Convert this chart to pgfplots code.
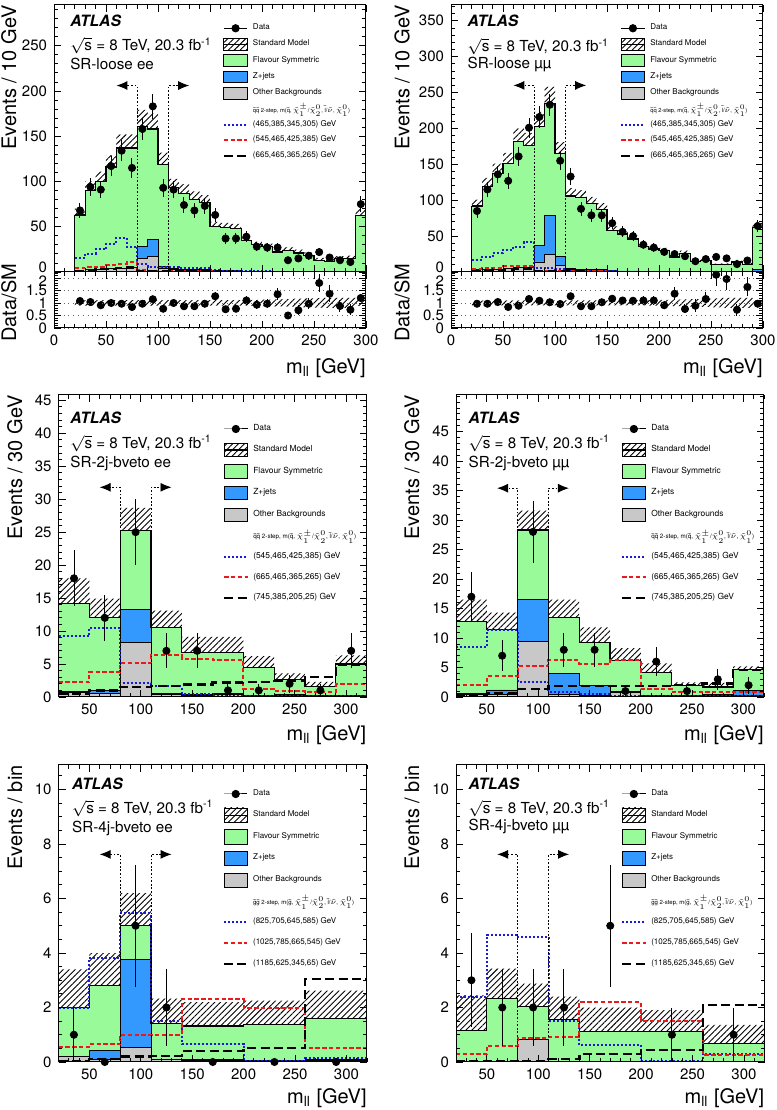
\documentclass[border=0pt]{standalone}
\usepackage{graphicx}
\usepackage{pgfplots}
\pgfplotsset{compat=1.18}
\usepackage{pgfplotstable}
\usepgfplotslibrary{fillbetween}
\usetikzlibrary{patterns.meta,arrows.meta}
\usepackage{fontspec}
\setmainfont{TeX Gyre Heros}

\definecolor{fsgreen}{RGB}{152,250,152}
\definecolor{zblue}{RGB}{51,153,255}
\definecolor{othgrey}{RGB}{200,200,200}
\definecolor{sigblue}{RGB}{25,25,215}
\definecolor{sigred}{RGB}{235,25,25}

\tikzset{
  sig1/.style={color=sigblue, line width=1pt, dash pattern=on 1pt off 1pt},
  sig2/.style={color=sigred, line width=1pt, dash pattern=on 2.2pt off 1.2pt},
  sig3/.style={color=black, line width=1.1pt, dash pattern=on 4.5pt off 2.2pt},
  hatchfill/.style={pattern={Lines[angle=45,distance=2.1pt,line width=0.45pt]}, pattern color=black},
}
\def\lw{11.7pt}
\def\lh{2.9pt}

\pgfplotsset{
  stepl/.style={const plot mark left, forget plot},
  root/.style={
    scale only axis, axis on top, clip=true,
    tick align=inside, major tick length=3.5pt, minor tick length=1.8pt,
    every tick/.style={black, line width=0.4pt},
    axis line style={line width=0.5pt},
    tick label style={font=\fontsize{7.5}{9}\selectfont},
    /pgf/number format/assume math mode=true,
    label style={font=\fontsize{9}{10.5}\selectfont},
    every axis y label/.style={rotate=90, anchor=south east, inner sep=0pt},
    every axis x label/.style={at={(axis description cs:1,0)}, anchor=north east, inner sep=0pt},
    legend cell align=left,
    legend style={draw=none, fill=none, anchor=north west, inner sep=0pt, outer sep=0pt,
      column sep=2.3pt, nodes={inner sep=0pt}},
  },
  leg data/.style={black, mark=*, mark size=1.8pt, line width=0.5pt,
    legend image code/.code={\path[draw=none,fill=none] (0pt,-\lh) rectangle (\lw,\lh);
      \draw[mark repeat=2, mark phase=2] plot coordinates {(0pt,0pt) (5.85pt,0pt) (11.7pt,0pt)};}},
  leg sm/.style={legend image code/.code={\fill[hatchfill] (0pt,-\lh) rectangle (\lw,\lh);
      \draw[black, line width=0.6pt] (0pt,0pt) -- (\lw,0pt);}},
  leg box/.style={legend image code/.code={\filldraw[fill=#1, draw=black, line width=0.45pt] (0pt,-\lh) rectangle (\lw,\lh);}},
  leg line/.style={legend image code/.code={\path[draw=none,fill=none] (0pt,-\lh) rectangle (\lw,\lh);
      \draw[#1] (0pt,0pt) -- (\lw,0pt);}},
  leg empty/.style={draw=none, fill=none,
    legend image code/.code={\path[draw=none,fill=none] (0pt,-\lh) rectangle (\lw,\lh);}},
}

% stacked backgrounds, SM band, signal lines
\newcommand{\drawstack}[2]{%
  \addplot[stepl, fill=fsgreen, draw=black, line width=0.4pt] table[x=x,y=sm] {#1} \closedcycle;
  \addplot[stepl, fill=zblue, draw=black, line width=0.4pt] table[x=x,y=zo] {#1} \closedcycle;
  \addplot[stepl, fill=othgrey, draw=black, line width=0.4pt] table[x=x,y=ot] {#1} \closedcycle;
  \addplot[stepl, draw=none, name path=#2hi] table[x=x,y=hi] {#1};
  \addplot[stepl, draw=none, name path=#2lo] table[x=x,y=lo] {#1};
  \addplot[hatchfill, draw=none, forget plot] fill between[of=#2hi and #2lo];
  \addplot[stepl, draw=black, line width=0.6pt] table[x=x,y=sm] {#1};
  \addplot[stepl, sig1] table[x=x,y=s1] {#1};
  \addplot[stepl, sig2] table[x=x,y=s2] {#1};
  \addplot[stepl, sig3] table[x=x,y=s3] {#1};
}
\newcommand{\datapts}[3]{%
  \addplot[black, only marks, mark=*, mark size=1.8pt, forget plot,
    error bars/.cd, y dir=both, y explicit, error mark=none,
    error bar style={line width=0.5pt, black, solid}]
    table[x=x, y=#2, y error=#3] {#1};
}
\newcommand{\zwin}[1]{%
  \addplot[black, line width=0.45pt, dash pattern=on 0.9pt off 0.9pt, -{Latex[length=5.5pt,width=4.5pt]}, forget plot]
    coordinates {(80,0) (80,#1) (60,#1)};
  \addplot[black, line width=0.45pt, dash pattern=on 0.9pt off 0.9pt, -{Latex[length=5.5pt,width=4.5pt]}, forget plot]
    coordinates {(110,0) (110,#1) (130,#1)};
}
\newcommand{\atlas}[5]{%
  \node[anchor=base west, inner sep=0pt, font=\fontsize{7.8}{9}\selectfont\bfseries\itshape] at (axis description cs:#1,#2) {ATLAS};
  \node[anchor=base west, inner sep=0pt, font=\fontsize{7.6}{9}\selectfont] at (axis description cs:#1,#3) {$\sqrt{\mbox{s}}$ = 8 TeV, 20.3 fb\textsuperscript{-1}};
  \node[anchor=base west, inner sep=0pt, font=\fontsize{7.6}{9}\selectfont] at (axis description cs:#1,#4) {#5};
}
\newcommand{\legq}[4]{%
  \addlegendimage{leg data}\addlegendentry{Data}
  \addlegendimage{leg sm}\addlegendentry{Standard Model}
  \addlegendimage{leg box=fsgreen}\addlegendentry{Flavour Symmetric}
  \addlegendimage{leg box=zblue}\addlegendentry{Z+jets}
  \addlegendimage{leg box=othgrey}\addlegendentry{Other Backgrounds}
  \addlegendimage{leg empty}\addlegendentry{#1}
  \addlegendimage{leg line=sig1}\addlegendentry{#2}
  \addlegendimage{leg line=sig2}\addlegendentry{#3}
  \addlegendimage{leg line=sig3}\addlegendentry{#4}
}
\newcommand{\modq}[1]{\resizebox{#1}{!}{$\tilde{\mathrm{q}}\tilde{\mathrm{q}}$ 2-step, m($\tilde{\mathrm{q}}$, $\tilde{\chi}^{\pm}_{1}$/$\tilde{\chi}^{0}_{2}$, $\tilde{\mathrm{l}}$/$\tilde{\nu}$, $\tilde{\chi}^{0}_{1}$)}}
\newcommand{\modg}[1]{\resizebox{#1}{!}{$\tilde{\mathrm{g}}\tilde{\mathrm{g}}$ 2-step, m($\tilde{\mathrm{g}}$, $\tilde{\chi}^{\pm}_{1}$/$\tilde{\chi}^{0}_{2}$, $\tilde{\mathrm{l}}$/$\tilde{\nu}$, $\tilde{\chi}^{0}_{1}$)}}
\newcommand{\mll}{m\textsubscript{ll} [GeV]}

% ---------------- SR-loose ee ----------------
\pgfplotstableread{
x sm lo hi zo ot s1 s2 s3 rl rh
20 63 56 70 1 1 16 4 1.5 0.89 1.11
30 90 80 100 3 3 20 5 2 0.89 1.11
40 100 89 111 3 3 25 6 3 0.89 1.11
50 116 103 129 4 4 31 8 3.5 0.89 1.11
60 137 122 152 4 4 38 9 4 0.89 1.11
70 137 122 152 5 5 28 11 5 0.89 1.11
80 161 143 179 28 15 9 2 1.5 0.89 1.11
90 158 141 175 36 17 6 1.5 1 0.89 1.11
100 119 106 132 6 4 5 1.5 1 0.89 1.11
110 93 83 103 4 3 5 1 1 0.89 1.11
120 87 77 97 3 2 4 1 0.8 0.89 1.11
130 80 71 89 2.5 2 4 1 0.8 0.89 1.11
140 77 69 85 2.5 2 4 0.8 0.5 0.89 1.11
150 50 44.5 55.5 2 1.5 2 0.6 0.5 0.89 1.11
160 49 43.6 54.4 1.5 1.5 1.5 0.5 0.4 0.89 1.11
170 48 42.7 53.3 1.5 1 1.5 0.5 0.4 0.89 1.11
180 35 31 39 1 1 1 0.4 0.3 0.89 1.11
190 30 26.5 33.5 0.8 0.8 1 0.4 0.3 0.88 1.12
200 28 24.4 31.6 0.8 0.8 1 0.3 0.3 0.87 1.13
210 22 19 25 0.8 0.8 0.5 0.3 0.2 0.86 1.14
220 24 20.4 27.6 0.8 0.8 0.3 0.2 0.2 0.85 1.15
230 21 17.4 24.6 0.8 0.8 0.3 0.2 0.2 0.83 1.17
240 18.5 15.2 21.8 0.8 0.8 0.3 0.2 0.2 0.82 1.18
250 13 10.5 15.5 0.8 0.8 0.3 0.2 0.2 0.81 1.19
260 12 9.6 14.4 0.8 0.8 0.3 0.2 0.2 0.8 1.2
270 14.5 11.6 17.4 0.8 0.8 0.3 0.2 0.2 0.8 1.2
280 15 12 18 0.8 0.8 0.3 0.2 0.2 0.8 1.2
290 62 54.5 69.5 1 1 0.3 0.2 0.2 0.88 1.12
300 62 54.5 69.5 1 1 0.3 0.2 0.2 0.88 1.12
}\tlhist
\pgfplotstableread{
x y e r re
25 68 8.2 1.08 0.13
35 94 9.7 1.04 0.11
45 91 9.5 0.91 0.095
55 117 10.8 1.0 0.093
65 134 11.6 0.97 0.085
75 115 10.7 0.84 0.078
85 158 12.6 0.97 0.078
95 183 13.5 1.15 0.086
105 93 9.6 0.77 0.081
115 91 9.5 1.0 0.10
125 74 8.6 0.87 0.10
135 68 8.2 0.87 0.10
145 73 8.5 0.97 0.11
155 63 7.9 1.27 0.16
165 37 6.1 0.75 0.12
175 37 6.1 0.77 0.13
185 39 6.2 1.1 0.18
195 28 5.3 0.93 0.18
205 27 5.2 0.97 0.19
215 27 5.2 1.35 0.24
225 13 3.6 0.5 0.15
235 15 3.9 0.71 0.19
245 18 4.2 0.97 0.23
255 22 4.7 1.8 0.36
265 16 4.0 1.37 0.33
275 13 3.6 0.88 0.25
285 11 3.3 0.73 0.22
295 75 8.7 1.2 0.14
}\tldata

% ---------------- SR-loose mumu ----------------
\pgfplotstableread{
x sm lo hi zo ot s1 s2 s3 rl rh
20 92 83 101 3 3 17 4 1 0.9 1.1
30 119 107 131 4 4 21 5 2 0.9 1.1
40 137 123 151 4 4 26 6 2 0.9 1.1
50 151 136 166 5 5 30 8 3 0.9 1.1
60 182 164 200 6 6 35 9 4 0.9 1.1
70 176 158 194 6 6 42 8.5 4 0.9 1.1
80 203 183 223 37 14 6 2 1 0.9 1.1
90 235 212 258 79 25 5 2 1 0.9 1.1
100 165 149 181 22 9 4 1.5 1 0.9 1.1
110 106 95 117 5 3 2 1 0.8 0.9 1.1
120 104 94 114 4 2 1.5 1 0.8 0.9 1.1
130 95 85.5 104.5 3 2 1.5 0.8 0.5 0.9 1.1
140 87 78 96 3 2 1 0.8 0.5 0.9 1.1
150 58 52 64 2 1.5 1 0.5 0.4 0.9 1.1
160 53 47.7 58.3 1.5 1 0.5 0.4 0.3 0.9 1.1
170 46 41.4 50.6 1.5 1 0.5 0.4 0.3 0.9 1.1
180 35 31.5 38.5 1 0.8 0.5 0.4 0.3 0.9 1.1
190 32 28.5 35.5 1 0.8 0.5 0.3 0.3 0.89 1.11
200 30 26.4 33.6 1 0.8 0.4 0.3 0.3 0.88 1.12
210 21 18.3 23.7 1 0.8 0.4 0.3 0.2 0.87 1.13
220 26 22.4 29.6 1 0.8 0.3 0.2 0.2 0.86 1.14
230 15 12.8 17.2 1 0.8 0.3 0.2 0.2 0.85 1.15
240 16 13.4 18.6 1 0.8 0.3 0.2 0.2 0.84 1.16
250 10 8.2 11.8 1 0.8 0.3 0.2 0.2 0.82 1.18
260 10 8 12 1 0.8 0.3 0.2 0.2 0.8 1.2
270 14 11.2 16.8 1 0.8 0.3 0.2 0.2 0.8 1.2
280 10.5 8.4 12.6 1 0.8 0.3 0.2 0.2 0.8 1.2
290 62 55 69 4 1 0.3 0.2 0.2 0.89 1.11
300 62 55 69 4 1 0.3 0.2 0.2 0.89 1.11
}\trhist
\pgfplotstableread{
x y e r re
25 85 9.2 0.97 0.10
35 115 10.7 0.97 0.09
45 136 11.7 1.04 0.085
55 127 11.3 0.84 0.075
65 161 12.7 0.89 0.07
75 201 14.2 1.16 0.08
85 216 14.7 1.09 0.072
95 233 15.3 1.03 0.065
105 155 12.4 0.96 0.075
115 133 11.5 1.27 0.11
125 88 9.4 0.87 0.09
135 79 8.9 0.87 0.095
145 79 8.9 1.03 0.1
155 68 8.2 1.17 0.14
165 56 7.5 1.1 0.14
175 50 7.1 1.09 0.15
185 38 6.2 1.1 0.18
195 34 5.8 1.1 0.18
205 28 5.3 0.91 0.17
215 25 5.0 1.37 0.25
225 22 4.7 0.76 0.18
235 15 3.9 0.89 0.26
245 18 4.2 1.16 0.26
255 21 4.6 2.13 0.45
265 19 4.4 1.96 0.44
275 11 3.3 0.73 0.24
285 16 4.0 1.64 0.38
295 64 8.0 0.97 0.13
}\trdata

% ---------------- SR-2j-bveto ----------------
\pgfplotstableread{
x sm lo hi zo ot s1 s2 s3
20 14.2 10.5 18 0.8 0.7 9.2 2.2 0.5
50 12 9.1 14.9 1.0 0.5 10.5 3.8 1.0
80 25.2 21.9 28.7 13.3 8.3 2.1 5.1 1.5
110 10.5 7.7 13.1 0.6 0.4 1.6 6.3 1.7
140 6.7 4.6 9.1 0.4 0.3 0.5 5.8 1.9
170 6.7 4.6 9.1 0.5 0.4 0.1 5.6 2.2
200 4.5 3.1 6.2 0.3 0.2 0.2 1.2 2.3
230 2.6 1.8 3.6 0.4 0.3 0.2 0.9 2.4
260 1.6 0.8 2.3 0.2 0.1 0.1 0.7 3.0
290 5.0 3.6 6.3 0.3 0.2 0.1 1.9 4.9
320 5.0 3.6 6.3 0.3 0.2 0.1 1.9 4.9
}\mlhist
\pgfplotstableread{
x y e
35 18 4.24
65 12 3.46
95 25 5
125 7 2.65
155 7 2.65
185 1 1
215 1 1
245 2 1.41
275 1 1
305 7 2.65
}\mldata
\pgfplotstableread{
x sm lo hi zo ot s1 s2 s3
20 12.8 9.1 16.5 0.6 0.5 8.5 2.0 0.3
50 11.5 9.1 14.3 1.2 0.5 11.3 3.5 0.6
80 28.3 24 31.6 16.6 9.4 2.5 5.2 1.3
110 13.5 10.5 16.5 4.0 0.5 0.8 6.2 1.8
140 9.2 6.9 11.8 2.0 0.3 0.5 5.6 1.8
170 6.2 4.6 8.3 1.0 0.8 0.2 6.2 1.8
200 4.2 2.8 5.7 0.3 0.2 0.1 1.4 1.8
230 1.9 1.4 2.5 0.3 0.2 0.1 0.9 2.0
260 1.7 1.1 2.4 0.5 0.2 0.1 0.8 2.3
290 4.6 3.6 5.2 1.1 0.2 0.1 0.9 4.6
320 4.6 3.6 5.2 1.1 0.2 0.1 0.9 4.6
}\mrhist
\pgfplotstableread{
x y e
35 17 4.12
65 7 2.65
95 28 5.29
125 8 2.83
155 8 2.83
185 1 1
215 6 2.45
245 1 1
275 3 1.73
305 2 1.41
}\mrdata

% ---------------- SR-4j-bveto ----------------
\pgfplotstableread{
x sm lo hi zo ot s1 s2 s3
20 2.0 0.6 3.4 0.2 0.2 2.0 0.55 0.05
50 2.8 1.65 4.0 0.42 0.1 3.8 0.65 0.1
80 5.0 3.76 6.2 3.75 0.55 5.45 1.0 0.2
110 1.42 0.5 2.33 0.1 0.1 1.5 1.0 0.22
140 1.32 0.45 2.2 0.08 0.05 0.65 2.3 0.4
200 1.38 0.5 2.25 0.05 0.05 0.02 2.0 0.5
260 1.6 0.55 2.62 0.1 0.05 0.15 0.5 3.05
320 1.6 0.55 2.62 0.1 0.05 0.15 0.5 3.05
}\blhist
\pgfplotstableread{
x y e
35 1 1
65 0 0
95 5 2.24
125 2 1.41
170 0 0
230 0 0
290 0 0
}\bldata
\pgfplotstableread{
x sm lo hi zo ot s1 s2 s3
20 1.17 0.02 2.45 0.03 0.02 2.4 0.28 0.03
50 2.33 1.2 3.43 0.03 0.02 4.65 0.6 0.03
80 2.05 0.85 2.88 0.83 0.82 4.6 0.87 0.05
110 1.55 0.62 2.4 0.03 0.02 1.5 0.9 0.1
140 1.11 0.26 2.0 0.03 0.02 0.63 2.2 0.3
200 1.11 0.26 1.9 0.03 0.02 0.03 1.5 0.45
260 0.68 0.2 1.36 0.03 0.02 0.3 0.26 2.1
320 0.68 0.2 1.36 0.03 0.02 0.3 0.26 2.1
}\brhist
\pgfplotstableread{
x y e
35 3 1.73
65 2 1.41
95 2 1.41
125 2 1.41
170 5 2.24
230 1 1
290 1 1
}\brdata

\begin{document}
\begin{tikzpicture}

% ===== top left: main =====
\def\lh{2.9pt}
\begin{axis}[root, at={(27pt,419pt)}, anchor=south west, width=156pt, height=133.5pt,
  xmin=0, xmax=300, ymin=0, ymax=295,
  xtick={0,50,...,300}, xticklabels={}, minor xtick={0,10,...,300},
  ytick={0,50,...,250}, yticklabels={{\raisebox{2.5pt}[\height][\depth]{0}},50,100,150,200,250},
  minor ytick={0,10,...,290},
  ylabel={Events / 10 GeV}, ylabel style={at={(axis description cs:-0.1186,1)}},
  legend style={at={(axis description cs:0.541,0.9345)}, row sep=1.95pt, font=\fontsize{4}{4.8}\selectfont},
]
\drawstack{\tlhist}{tl}
\zwin{206}
\datapts{\tldata}{y}{e}
\atlas{0.051}{0.921}{0.829}{0.757}{SR-loose ee}
\legq{\modq{48.5pt}}{(465,385,345,305) GeV}{(545,465,425,385) GeV}{(665,465,365,265) GeV}
\end{axis}
% ===== top left: ratio =====
\begin{axis}[root, at={(27pt,391pt)}, anchor=south west, width=156pt, height=28pt,
  xmin=0, xmax=300, ymin=0, ymax=2.24,
  xtick={0,50,...,300}, minor xtick={0,10,...,300},
  ytick={0,0.5,1,1.5,2}, yticklabels={0,0.5,1,1.5,{\raisebox{-1.5pt}[\height][\depth]{2}}},
  minor ytick={0,0.1,...,2.2},
  ymajorgrids, major grid style={dotted, black!60, line width=0.35pt},
  xlabel={\mll}, xlabel style={yshift=-15pt},
  ylabel={Data/SM}, ylabel style={at={(axis description cs:-0.1186,0.45)}, anchor=south},
]
\addplot[stepl, draw=none, name path=tlrh] table[x=x,y=rh] {\tlhist};
\addplot[stepl, draw=none, name path=tlrl] table[x=x,y=rl] {\tlhist};
\addplot[hatchfill, draw=none, forget plot] fill between[of=tlrh and tlrl];
\datapts{\tldata}{r}{re}
\end{axis}

% ===== top right: main =====
\begin{axis}[root, at={(225.5pt,419pt)}, anchor=south west, width=156pt, height=133.5pt,
  xmin=0, xmax=300, ymin=0, ymax=372,
  xtick={0,50,...,300}, xticklabels={}, minor xtick={0,10,...,300},
  ytick={0,50,...,350}, yticklabels={{\raisebox{2.5pt}[\height][\depth]{0}},50,100,150,200,250,300,350},
  minor ytick={0,10,...,370},
  ylabel={Events / 10 GeV}, ylabel style={at={(axis description cs:-0.131,1)}},
  legend style={at={(axis description cs:0.542,0.9345)}, row sep=1.95pt, font=\fontsize{4}{4.8}\selectfont},
]
\drawstack{\trhist}{tr}
\zwin{260}
\datapts{\trdata}{y}{e}
\atlas{0.052}{0.919}{0.825}{0.763}{SR-loose µµ}
\legq{\modq{48.5pt}}{(465,385,345,305) GeV}{(545,465,425,385) GeV}{(665,465,365,265) GeV}
\end{axis}
% ===== top right: ratio =====
\begin{axis}[root, at={(225.5pt,391pt)}, anchor=south west, width=156pt, height=28pt,
  xmin=0, xmax=300, ymin=0, ymax=2.24,
  xtick={0,50,...,300}, minor xtick={0,10,...,300},
  ytick={0,0.5,1,1.5,2}, yticklabels={0,0.5,1,1.5,{\raisebox{-1.5pt}[\height][\depth]{2}}},
  minor ytick={0,0.1,...,2.2},
  ymajorgrids, major grid style={dotted, black!60, line width=0.35pt},
  xlabel={\mll}, xlabel style={yshift=-15pt},
  ylabel={Data/SM}, ylabel style={at={(axis description cs:-0.131,0.45)}, anchor=south},
]
\addplot[stepl, draw=none, name path=trrh] table[x=x,y=rh] {\trhist};
\addplot[stepl, draw=none, name path=trrl] table[x=x,y=rl] {\trhist};
\addplot[hatchfill, draw=none, forget plot] fill between[of=trrh and trrl];
\datapts{\trdata}{r}{re}
\end{axis}

% ===== middle left =====
\def\lh{3.35pt}
\begin{axis}[root, at={(29.3pt,206.5pt)}, anchor=south west, width=154pt, height=151pt,
  xmin=20, xmax=320, ymin=0, ymax=45.8,
  xtick={50,100,...,300}, minor xtick={20,30,...,320},
  ytick={0,5,...,45}, minor ytick={0,1,...,45},
  xlabel={\mll}, xlabel style={yshift=-14pt},
  ylabel={Events / 30 GeV}, ylabel style={at={(axis description cs:-0.1156,1)}},
  legend style={at={(axis description cs:0.534,0.9096)}, row sep=3.65pt, font=\fontsize{4.2}{5}\selectfont},
]
\drawstack{\mlhist}{ml}
\zwin{31.8}
\datapts{\mldata}{y}{e}
\atlas{0.037}{0.906}{0.823}{0.761}{SR-2j-bveto ee}
\legq{\modq{51.5pt}}{(545,465,425,385) GeV}{(665,465,365,265) GeV}{(745,385,205,25) GeV}
\end{axis}

% ===== middle right =====
\begin{axis}[root, at={(228pt,206.5pt)}, anchor=south west, width=154pt, height=151pt,
  xmin=20, xmax=320, ymin=0, ymax=51.2,
  xtick={50,100,...,300}, minor xtick={20,30,...,320},
  ytick={0,5,...,45}, minor ytick={0,1,...,51},
  xlabel={\mll}, xlabel style={yshift=-14pt},
  ylabel={Events / 30 GeV}, ylabel style={at={(axis description cs:-0.117,1)}},
  legend style={at={(axis description cs:0.536,0.9096)}, row sep=3.65pt, font=\fontsize{4.2}{5}\selectfont},
]
\drawstack{\mrhist}{mr}
\zwin{35.4}
\datapts{\mrdata}{y}{e}
\atlas{0.04}{0.906}{0.823}{0.76}{SR-2j-bveto µµ}
\legq{\modq{51.5pt}}{(545,465,425,385) GeV}{(665,465,365,265) GeV}{(745,385,205,25) GeV}
\end{axis}

% ===== bottom left =====
\def\lh{3.6pt}
\begin{axis}[root, at={(29.25pt,24pt)}, anchor=south west, width=154.25pt, height=148.5pt,
  xmin=20, xmax=320, ymin=0, ymax=10.9,
  xtick={50,100,...,300}, minor xtick={20,30,...,320},
  ytick={0,2,...,10}, minor ytick={0,0.5,...,10.5},
  xlabel={\mll}, xlabel style={yshift=-13pt},
  ylabel={Events / bin}, ylabel style={at={(axis description cs:-0.115,1)}},
  legend style={at={(axis description cs:0.533,0.9266)}, row sep=3.2pt, font=\fontsize{4}{4.8}\selectfont},
]
\drawstack{\blhist}{bl}
\zwin{7.62}
\datapts{\bldata}{y}{e}
\atlas{0.043}{0.916}{0.837}{0.772}{SR-4j-bveto ee}
\legq{\modg{50.5pt}}{(825,705,645,585) GeV}{(1025,785,665,545) GeV}{(1185,625,345,65) GeV}
\end{axis}

% ===== bottom right =====
\begin{axis}[root, at={(228pt,24pt)}, anchor=south west, width=154.25pt, height=148.5pt,
  xmin=20, xmax=320, ymin=0, ymax=10.9,
  xtick={50,100,...,300}, minor xtick={20,30,...,320},
  ytick={0,2,...,10}, minor ytick={0,0.5,...,10.5},
  xlabel={\mll}, xlabel style={yshift=-13pt},
  ylabel={Events / bin}, ylabel style={at={(axis description cs:-0.117,1)}},
  legend style={at={(axis description cs:0.535,0.9266)}, row sep=3.2pt, font=\fontsize{4}{4.8}\selectfont},
]
\drawstack{\brhist}{br}
\zwin{7.62}
\datapts{\brdata}{y}{e}
\atlas{0.04}{0.916}{0.837}{0.779}{SR-4j-bveto µµ}
\legq{\modg{50.5pt}}{(825,705,645,585) GeV}{(1025,785,665,545) GeV}{(1185,625,345,65) GeV}
\end{axis}

\pgfresetboundingbox
\path (0,0) rectangle (388.5pt,555pt);
\end{tikzpicture}
\end{document}
